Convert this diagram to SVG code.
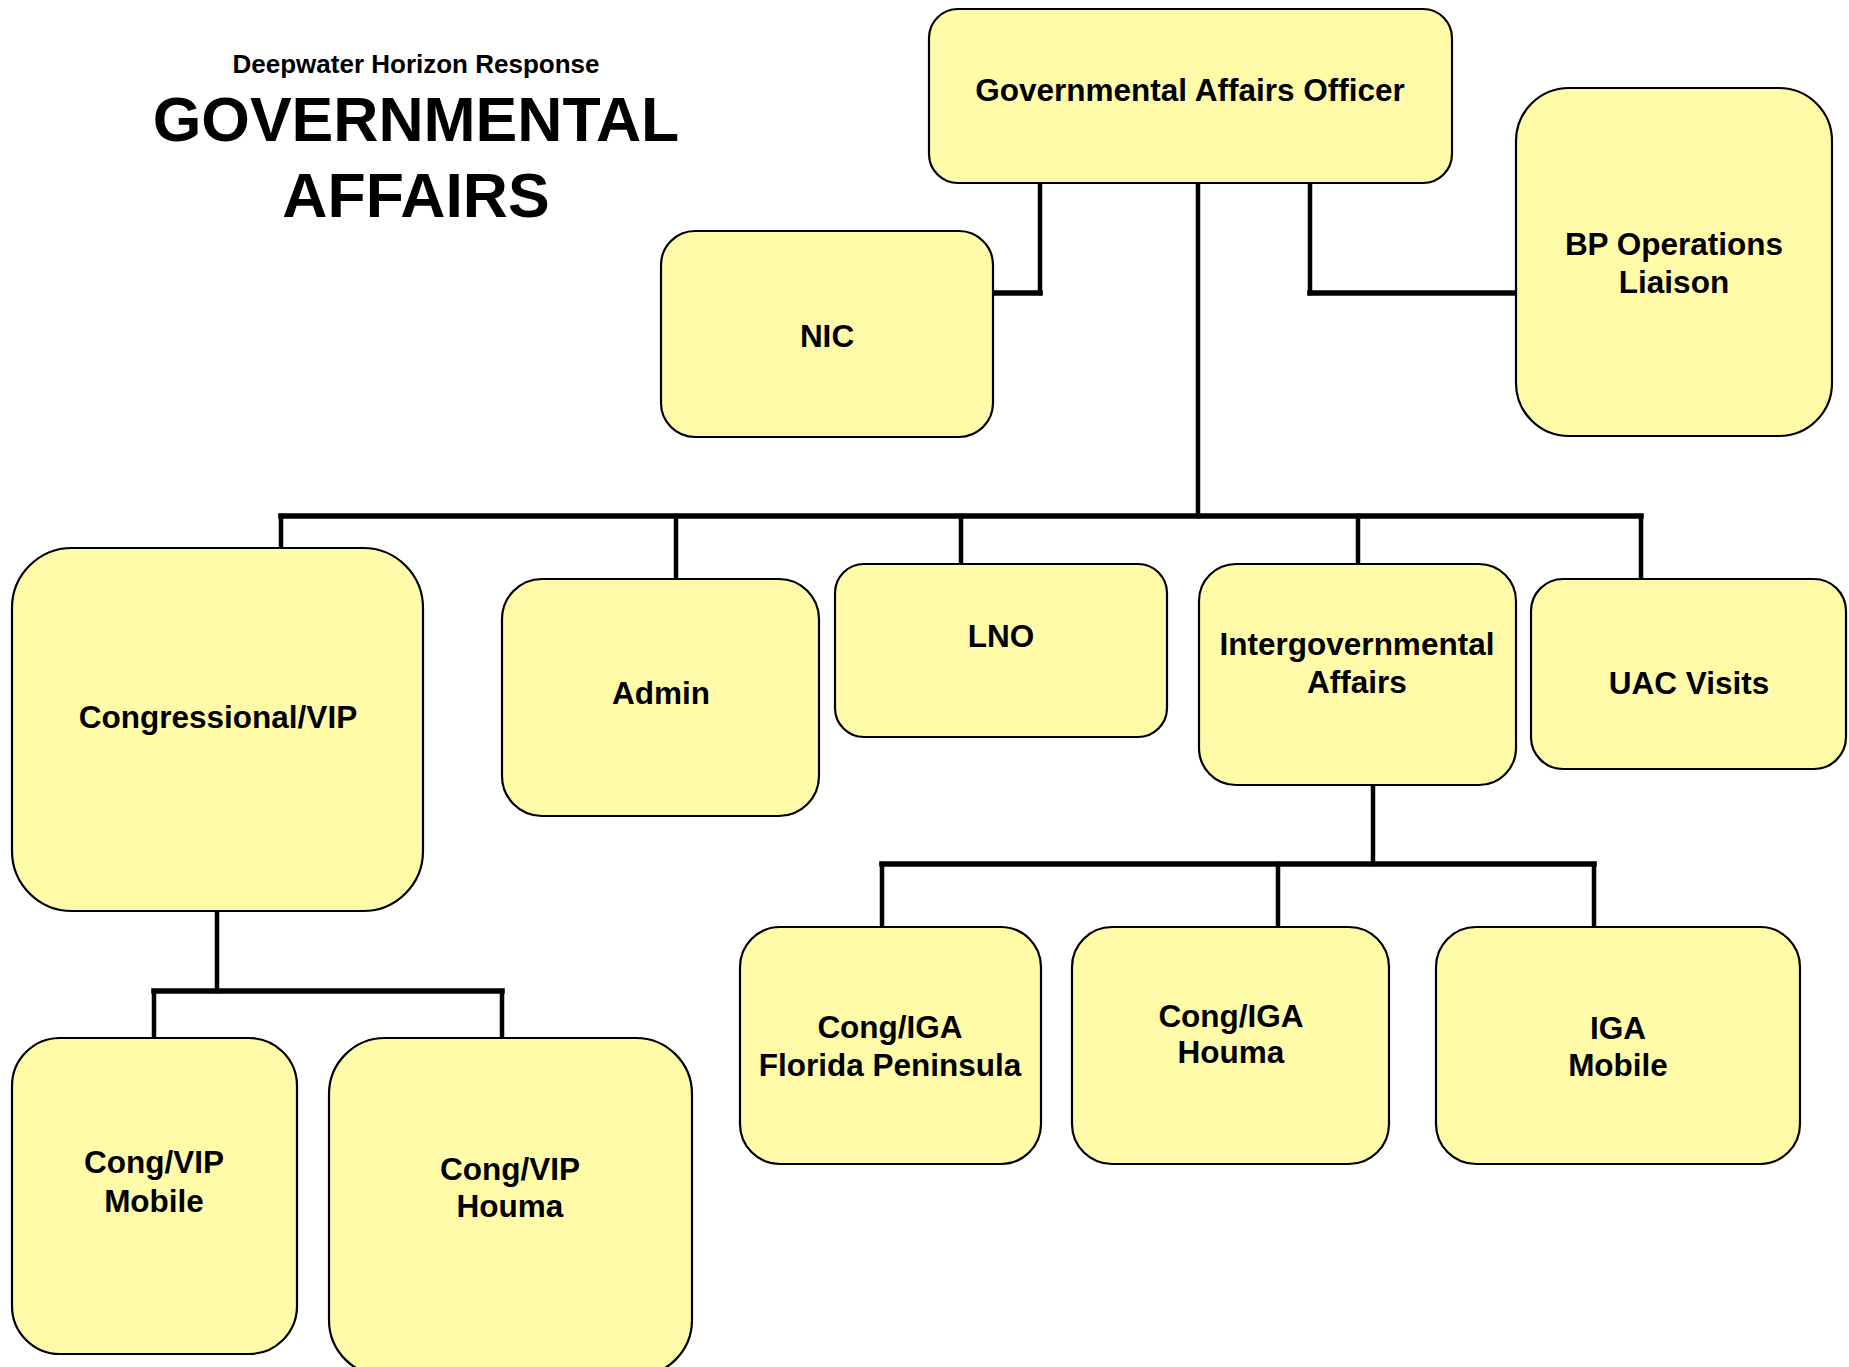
<svg xmlns="http://www.w3.org/2000/svg" width="1849" height="1367" viewBox="0 0 1849 1367">
<style>
.box{fill:#FFFBA8;stroke:#000;stroke-width:2.2}
.lbl{font-family:"Liberation Sans",Arial,sans-serif;font-weight:bold;font-size:31.5px;fill:#000;text-anchor:middle}
.ttl{font-family:"Liberation Sans",Arial,sans-serif;font-weight:bold;fill:#000;text-anchor:middle}
.v{stroke:#000;stroke-width:4.5;fill:none;stroke-linecap:square}
.h{stroke:#000;stroke-width:5.5;fill:none;stroke-linecap:square}
</style>
<rect width="1849" height="1367" fill="#fff"/>
<g id="title">
<text class="ttl" x="416" y="73" font-size="26">Deepwater Horizon Response</text>
<text class="ttl" x="416" y="141" font-size="62.5">GOVERNMENTAL</text>
<text class="ttl" x="416" y="217" font-size="62.5">AFFAIRS</text>
</g>
<g id="connectors">
<path class="v" d="M1040 183 V293"/>
<path class="h" d="M1040 293 H993"/>
<path class="v" d="M1310 183 V293"/>
<path class="h" d="M1310 293 H1516"/>
<path class="v" d="M1198 183 V516"/>
<path class="h" d="M281 516 H1641"/>
<path class="v" d="M281 516 V548"/>
<path class="v" d="M676 516 V579"/>
<path class="v" d="M961 516 V564"/>
<path class="v" d="M1358 516 V564"/>
<path class="v" d="M1641 516 V579"/>
<path class="v" d="M1373 785 V864"/>
<path class="h" d="M882 864 H1594"/>
<path class="v" d="M882 864 V927"/>
<path class="v" d="M1278 864 V927"/>
<path class="v" d="M1594 864 V927"/>
<path class="v" d="M217 911 V991"/>
<path class="h" d="M154 991 H502"/>
<path class="v" d="M154 991 V1038"/>
<path class="v" d="M502 991 V1038"/>
</g>
<g id="gao">
<rect class="box" x="929" y="9" width="523" height="174" rx="29"/>
<text class="lbl" x="1190" y="101">Governmental Affairs Officer</text>
</g>
<g id="nic">
<rect class="box" x="661" y="231" width="332" height="206" rx="34"/>
<text class="lbl" x="827" y="347">NIC</text>
</g>
<g id="bp">
<rect class="box" x="1516" y="88" width="316" height="348" rx="53"/>
<text class="lbl" x="1674" y="255">BP Operations</text>
<text class="lbl" x="1674" y="293">Liaison</text>
</g>
<g id="congvip">
<rect class="box" x="12" y="548" width="411" height="363" rx="60"/>
<text class="lbl" x="218" y="728">Congressional/VIP</text>
</g>
<g id="admin">
<rect class="box" x="502" y="579" width="317" height="237" rx="40"/>
<text class="lbl" x="661" y="704">Admin</text>
</g>
<g id="lno">
<rect class="box" x="835" y="564" width="332" height="173" rx="29"/>
<text class="lbl" x="1001" y="647">LNO</text>
</g>
<g id="iga">
<rect class="box" x="1199" y="564" width="317" height="221" rx="37"/>
<text class="lbl" x="1357" y="655">Intergovernmental</text>
<text class="lbl" x="1357" y="693">Affairs</text>
</g>
<g id="uac">
<rect class="box" x="1531" y="579" width="315" height="190" rx="32"/>
<text class="lbl" x="1689" y="694">UAC Visits</text>
</g>
<g id="cong-iga-fp">
<rect class="box" x="740" y="927" width="301" height="237" rx="40"/>
<text class="lbl" x="890" y="1038">Cong/IGA</text>
<text class="lbl" x="890" y="1076">Florida Peninsula</text>
</g>
<g id="cong-iga-houma">
<rect class="box" x="1072" y="927" width="317" height="237" rx="40"/>
<text class="lbl" x="1231" y="1027">Cong/IGA</text>
<text class="lbl" x="1231" y="1063">Houma</text>
</g>
<g id="iga-mobile">
<rect class="box" x="1436" y="927" width="364" height="237" rx="40"/>
<text class="lbl" x="1618" y="1039">IGA</text>
<text class="lbl" x="1618" y="1076">Mobile</text>
</g>
<g id="congvip-mobile">
<rect class="box" x="12" y="1038" width="285" height="316" rx="48"/>
<text class="lbl" x="154" y="1173">Cong/VIP</text>
<text class="lbl" x="154" y="1212">Mobile</text>
</g>
<g id="congvip-houma">
<rect class="box" x="329" y="1038" width="363" height="338" rx="56"/>
<text class="lbl" x="510" y="1180">Cong/VIP</text>
<text class="lbl" x="510" y="1217">Houma</text>
</g>
</svg>
